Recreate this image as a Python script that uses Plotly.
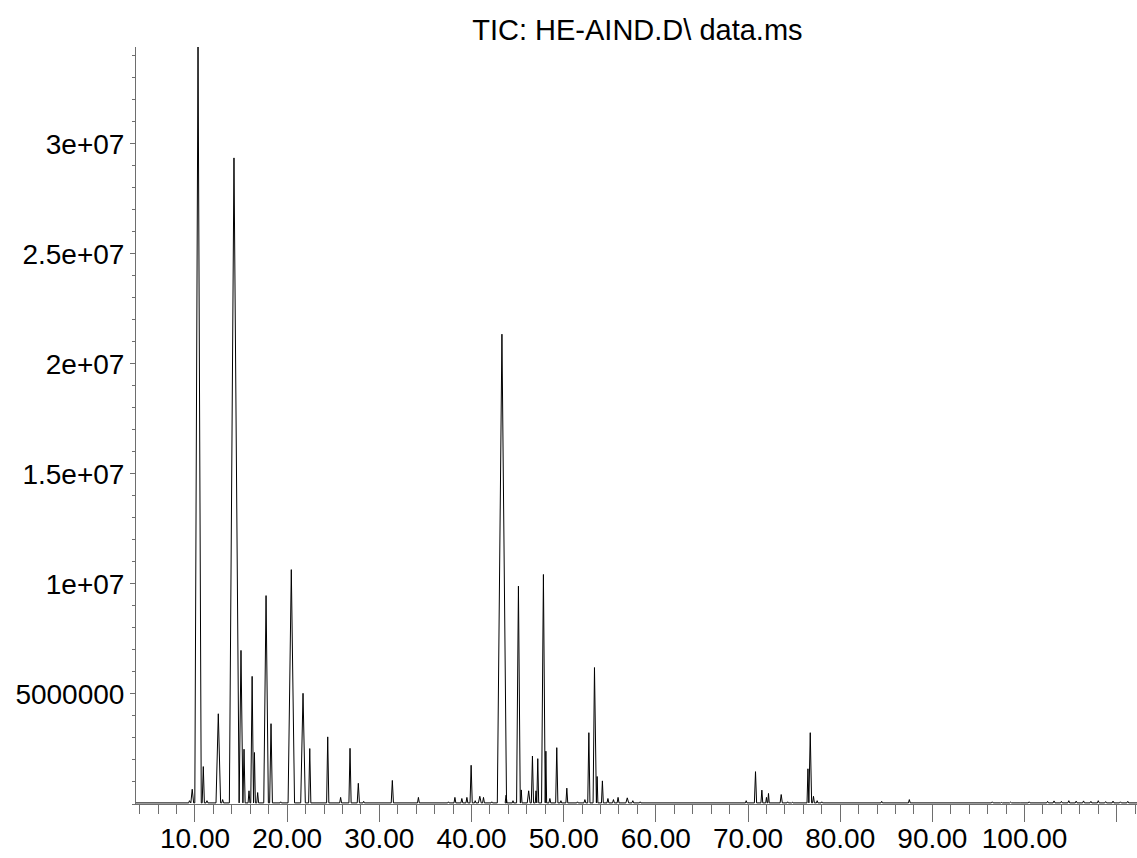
import plotly.graph_objects as go

# Retention time (min) of each peak
peak_time = [4.2, 5.5, 7.5, 9.4, 9.7, 10.33, 10.9, 11.3, 12.53, 13.0,
             14.23, 14.99, 15.32, 15.86, 16.2, 16.45, 16.8, 17.71, 18.25, 19.3,
             20.45, 21.72, 22.45, 23.2, 24.4, 25.8, 26.82, 27.72, 28.3, 31.41,
             34.24, 37.5, 38.2, 38.95, 39.5, 39.96, 40.4, 40.9, 41.3, 42.2,
             43.3, 43.75, 44.5, 45.09, 45.4, 46.2, 46.61, 47.0, 47.19, 47.8,
             48.07, 48.5, 49.25, 49.7, 50.34, 51.5, 52.3, 52.73, 53.34, 53.63,
             54.2, 54.8, 55.4, 55.9, 56.9, 57.5, 58.3, 60.5, 61.5, 69.8,
             70.81, 71.5, 72.0, 72.22, 73.6, 74.3, 74.8, 76.5, 76.75, 77.1,
             77.5, 78.0, 79.5, 84.5, 87.5, 88.2, 94.5, 95.5, 96.5, 97.5,
             98.5, 99.5, 100.5, 101.5, 102.5, 103.2, 104.0, 104.8, 105.6, 106.4,
             107.2, 108.0, 108.8, 109.6, 110.4, 111.2]

# Peak apex abundance, in units of 1e6 counts
peak_height = [0.08, 0.05, 0.05, 0.15, 0.67, 34.6, 1.7, 0.15, 4.1, 0.2,
               29.36, 6.98, 2.49, 0.6, 5.8, 2.34, 0.52, 9.47, 3.65, 0.1,
               10.65, 5.03, 2.52, 0.08, 3.05, 0.3, 2.53, 0.94, 0.12, 1.07,
               0.3, 0.1, 0.3, 0.25, 0.3, 1.76, 0.15, 0.35, 0.3, 0.1,
               21.35, 0.4, 0.15, 9.9, 0.64, 0.6, 2.18, 0.6, 2.06, 10.43,
               2.4, 0.25, 2.56, 0.15, 0.72, 0.1, 0.2, 3.24, 6.2, 1.25,
               1.05, 0.25, 0.2, 0.3, 0.28, 0.15, 0.1, 0.05, 0.05, 0.15,
               1.47, 0.63, 0.3, 0.48, 0.43, 0.1, 0.08, 1.6, 3.24, 0.35,
               0.15, 0.1, 0.05, 0.12, 0.2, 0.05, 0.08, 0.06, 0.1, 0.07,
               0.09, 0.06, 0.1, 0.08, 0.12, 0.14, 0.12, 0.15, 0.13, 0.14,
               0.12, 0.15, 0.11, 0.13, 0.1, 0.12]

# Half width of each peak at its base (min)
peak_halfwidth = [0.08, 0.08, 0.08, 0.08, 0.15, 0.35, 0.12, 0.1, 0.25, 0.1,
                  0.5, 0.2, 0.12, 0.1, 0.15, 0.1, 0.1, 0.25, 0.15, 0.08,
                  0.35, 0.25, 0.12, 0.08, 0.12, 0.1, 0.12, 0.12, 0.08, 0.12,
                  0.1, 0.08, 0.1, 0.1, 0.1, 0.12, 0.08, 0.15, 0.1, 0.08,
                  0.5, 0.1, 0.08, 0.2, 0.08, 0.15, 0.12, 0.08, 0.1, 0.2,
                  0.08, 0.1, 0.12, 0.08, 0.1, 0.08, 0.1, 0.12, 0.15, 0.08,
                  0.1, 0.1, 0.1, 0.1, 0.15, 0.1, 0.08, 0.08, 0.08, 0.08,
                  0.12, 0.1, 0.08, 0.08, 0.12, 0.08, 0.08, 0.1, 0.15, 0.1,
                  0.08, 0.08, 0.08, 0.08, 0.1, 0.08, 0.1, 0.1, 0.1, 0.1,
                  0.1, 0.1, 0.1, 0.1, 0.1, 0.1, 0.1, 0.1, 0.1, 0.1,
                  0.1, 0.1, 0.1, 0.1, 0.1, 0.1]

baseline = 0.05          # 1e6 counts
run_start, run_end = 3.6, 112.2

x_tick_vals = [10, 20, 30, 40, 50, 60, 70, 80, 90, 100, 110]
x_tick_text = ["10.00", "20.00", "30.00", "40.00", "50.00", "60.00",
               "70.00", "80.00", "90.00", "100.00", ""]
y_tick_vals = [5e6, 1e7, 1.5e7, 2e7, 2.5e7, 3e7]
y_tick_text = ["5000000", "1e+07", "1.5e+07", "2e+07", "2.5e+07", "3e+07"]

# Build the chromatogram polyline from the peak table
xs = [run_start]
ys = [baseline * 1e6]
for t, h, w in sorted(zip(peak_time, peak_height, peak_halfwidth)):
    xs += [t - w, t, t + w]
    ys += [baseline * 1e6, h * 1e6, baseline * 1e6]
xs.append(run_end)
ys.append(baseline * 1e6)

font = "Liberation Sans, Arial, sans-serif"
axis_col = "#6e6e6e"

fig = go.Figure(go.Scatter(x=xs, y=ys, mode="lines",
                           line=dict(color="#000000", width=1),
                           hoverinfo="x+y", showlegend=False))

fig.update_layout(
    width=1137, height=858,
    margin=dict(l=136, r=0, t=47, b=54),
    paper_bgcolor="white", plot_bgcolor="white",
    font=dict(family=font, color="#000000"),
    title=dict(text="TIC: HE-AIND.D\\ data.ms", xref="container",
               x=637.4 / 1137, xanchor="center",
               y=1 - 29.5 / 858, yanchor="middle",
               font=dict(family=font, size=29, color="#000000")),
    xaxis=dict(range=[run_start, run_end], showgrid=False, zeroline=False,
               showline=True, linecolor=axis_col, linewidth=1,
               tickmode="array", tickvals=x_tick_vals, ticktext=x_tick_text,
               ticks="outside", ticklen=17, tickwidth=1, tickcolor=axis_col,
               ticklabelstandoff=-8,
               tickfont=dict(family=font, size=28, color="#000000"),
               minor=dict(tickmode="linear", tick0=0, dtick=2, ticks="outside",
                          ticklen=9, tickwidth=1, tickcolor=axis_col,
                          showgrid=False),
               automargin=False),
    yaxis=dict(range=[0, 34.4e6], showgrid=False, zeroline=False,
               showline=True, linecolor=axis_col, linewidth=1,
               tickmode="array", tickvals=y_tick_vals, ticktext=y_tick_text,
               ticks="outside", ticklen=5, tickwidth=1, tickcolor=axis_col,
               tickfont=dict(family=font, size=28, color="#000000"),
               minor=dict(tickmode="linear", tick0=0, dtick=1e6, ticks="outside",
                          ticklen=3, tickwidth=1, tickcolor=axis_col,
                          showgrid=False),
               automargin=False),
)

# remove the default 8px page margin so the figure fills the window exactly
fig.write_html("out.html",
               config={"displayModeBar": False},
               post_script="document.body.style.margin='0';"
                           "document.body.style.overflow='hidden';")
